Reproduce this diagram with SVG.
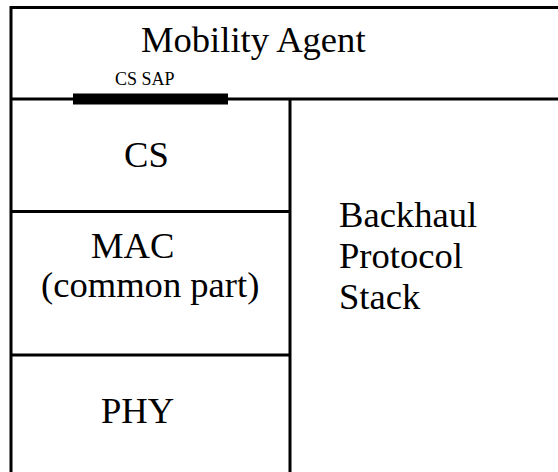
<svg xmlns="http://www.w3.org/2000/svg" width="558" height="472" viewBox="0 0 558 472">
<style>
.ln{stroke:#000;stroke-width:3;fill:none}
text{font-family:"Liberation Serif","Times New Roman","DejaVu Serif",serif;fill:#000}
.t{font-size:36.6px}
.s{font-size:18px}
</style>
<rect width="558" height="472" fill="#fff"/>
<g id="connectors">
<line class="ln" x1="11" y1="7.5" x2="558" y2="7.5"/>
<line class="ln" x1="11" y1="6" x2="11" y2="472"/>
<line class="ln" x1="11" y1="99" x2="558" y2="99"/>
<line class="ln" x1="290" y1="99" x2="290" y2="472"/>
<line class="ln" x1="11" y1="211.5" x2="290" y2="211.5"/>
<line class="ln" x1="11" y1="355" x2="290" y2="355"/>
</g>
<g id="mobility-agent">
<text class="t" x="141" y="52">Mobility Agent</text>
</g>
<g id="cs-sap">
<rect x="73" y="93.5" width="155" height="11" fill="#000"/>
<text class="s" x="115" y="85">CS SAP</text>
</g>
<g id="cs">
<text class="t" x="124" y="166.5">CS</text>
</g>
<g id="mac">
<text class="t" x="91" y="258">MAC</text>
<text class="t" x="41" y="297">(common part)</text>
</g>
<g id="phy">
<text class="t" x="101" y="422.5">PHY</text>
</g>
<g id="backhaul">
<text class="t" x="339" y="226.5">Backhaul</text>
<text class="t" x="339" y="267.5">Protocol</text>
<text class="t" x="339" y="309">Stack</text>
</g>
</svg>
